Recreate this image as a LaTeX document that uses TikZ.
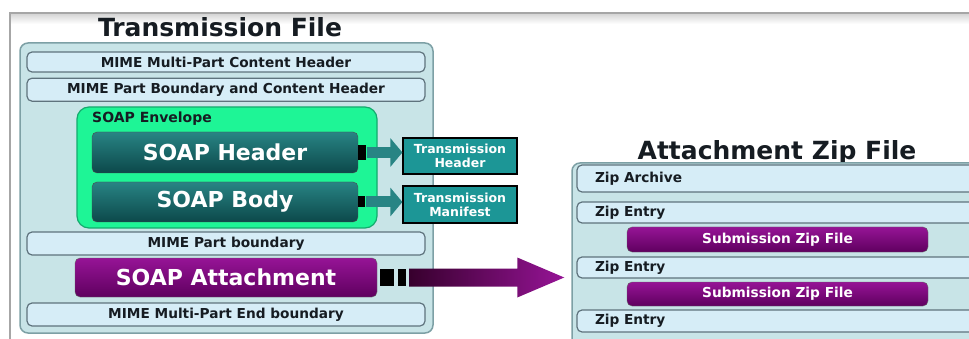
\documentclass[tikz,border=0pt]{standalone}
\usepackage{fontspec}
\setmainfont{DejaVu Sans}
\usepackage{xcolor}
\usetikzlibrary{arrows.meta, positioning, calc}
\definecolor{outerfill}{RGB}{200,228,231}
\definecolor{outerline}{RGB}{125,160,165}
\definecolor{barfill}{RGB}{214,237,247}
\definecolor{barline}{RGB}{95,115,125}
\definecolor{envgreen}{RGB}{30,245,150}
\definecolor{envline}{RGB}{20,170,110}
\definecolor{soaptop}{RGB}{40,132,132}
\definecolor{soapbot}{RGB}{12,72,74}
\definecolor{transteal}{RGB}{28,150,150}
\definecolor{attlight}{RGB}{150,20,150}
\definecolor{attdark}{RGB}{95,0,95}
\definecolor{arrdark}{RGB}{55,0,45}
\definecolor{inktext}{RGB}{22,28,34}
\newcommand{\smallfont}{\fontsize{13.7}{14.5}\selectfont\bfseries}
\newcommand{\bigfont}{\fontsize{22}{26}\selectfont\bfseries}
\newcommand{\titlefont}{\fontsize{25}{30}\selectfont\bfseries}

\begin{document}
\begin{tikzpicture}[
        x=1pt, y=-1pt,
        title/.style={font=\titlefont, text=inktext, inner sep=0pt},
        outer/.style={rectangle, draw=outerline, line width=1.5pt, rounded corners=8pt, fill=outerfill},
        bar/.style={rectangle, draw=barline, line width=1.2pt, rounded corners=5pt, fill=barfill, minimum width=398pt, font=\smallfont, text=inktext, inner sep=0pt},
        zipbar/.style={bar, minimum width=413pt, text width=377pt, inner xsep=18pt, align=left},
        envelope/.style={rectangle, draw=envline, line width=1.2pt, rounded corners=12pt, fill=envgreen, minimum width=300pt, minimum height=121pt},
        soapbar/.style={rectangle, draw=black!70, rounded corners=5pt, top color=soaptop, bottom color=soapbot, minimum width=266pt, minimum height=40pt, text=white, font=\bigfont, inner sep=0pt},
        attbox/.style={rectangle, draw=black!60, rounded corners=5pt, top color=attlight, bottom color=attdark, text=white, inner sep=0pt},
        transbox/.style={rectangle, draw=black, line width=1.2pt, fill=transteal, text=white, font=\fontsize{12.5}{14}\selectfont\bfseries, align=center, minimum width=114pt, minimum height=36pt, inner sep=0pt},
        dot/.style={rectangle, fill=black, inner sep=0pt},
        tealarrow/.style={line width=11pt, draw=soaptop, -{Triangle[length=12pt, width=28pt]}},
        node distance=5pt
    ]
        \useasboundingbox (0,0) rectangle (969,339);
        \clip (0,0) rectangle (969,339);
        % screenshot frame
        \shade[top color=gray!35, bottom color=white] (10,13) rectangle (969,24);
        \draw[gray!70, line width=2.5pt] (969,13) -- (10,13) -- (10,339);

        % transmission file
        \node[title] (transfile) at (220,27) {Transmission File};
        \node[outer, minimum width=413pt, minimum height=290pt] (trans) at (226.5,188) {};
        \node[bar, minimum height=20pt] (mimehdr) at (226,62) {MIME Multi-Part Content Header};
        \node[bar, minimum height=23pt, below=of mimehdr] (mimebnd) {MIME Part Boundary and Content Header};
        \node[envelope] (envelope) at (227,167.5) {};
        \node[anchor=north west, font=\fontsize{14}{16}\selectfont\bfseries, text=inktext, inner sep=0pt] (envlabel) at (92,112) {SOAP Envelope};
        \node[soapbar, minimum height=41pt] (soaphdr) at (225,152.5) {SOAP Header};
        \node[soapbar] (soapbody) at (225,202) {SOAP Body};
        \node[bar, minimum height=23pt] (mimepart) at (226,243.5) {MIME Part boundary};
        \node[attbox, minimum width=302pt, minimum height=39pt, font=\bigfont] (soapatt) at (226,277.5) {SOAP Attachment};
        \node[bar, minimum height=23pt] (mimeend) at (226,314.5) {MIME Multi-Part End boundary};

        % transmission header and manifest
        \node[transbox] (thdr) at (460,156) {Transmission\\Header};
        \node[transbox, minimum height=37pt] (tman) at (460,204.5) {Transmission\\Manifest};
        \node[dot, minimum width=8pt, minimum height=15pt, anchor=west] (hdrdot) at (soaphdr.east) {};
        \node[dot, minimum width=7pt, minimum height=11pt, anchor=west] (bodydot) at (soapbody.east) {};
        \draw[tealarrow] (hdrdot.east) -- (hdrdot.east -| thdr.west);
        \draw[tealarrow] (bodydot.east) -- (bodydot.east -| tman.west);

        % attachment zip file
        \node[title] (ziptitle) at (777,153) {Attachment Zip File};
        \node[outer, minimum width=428pt, minimum height=197pt] (zipfile) at (786,261.5) {};
        \node[zipbar, minimum height=27pt] (ziparch) at (783.5,178.5) {Zip Archive};
        \node[zipbar, minimum height=21pt] (zipent1) at (783.5,212.5) {Zip Entry};
        \node[attbox, minimum width=301pt, minimum height=25pt, font=\smallfont] (subzip1) at (777.5,239.5) {Submission Zip File};
        \node[zipbar, minimum height=21pt] (zipent2) at (783.5,267.5) {Zip Entry};
        \node[attbox, minimum width=301pt, minimum height=24pt, font=\smallfont] (subzip2) at (777.5,294) {Submission Zip File};
        \node[zipbar, minimum height=22pt] (zipent3) at (783.5,321) {Zip Entry};

        % attachment arrow
        \node[dot, minimum width=14pt, minimum height=17pt, right=3pt of soapatt.east, anchor=west] (attdota) {};
        \node[dot, minimum width=8pt, minimum height=17pt, right=3pt of attdota] (attdotb) {};
        \coordinate (atail) at ($(attdotb.east)+(3,0)$);
        \coordinate (atip) at ($(atail -| zipfile.west)+(-7,0)$);
        \shade[left color=arrdark, right color=attlight] ($(atail)+(0,-9)$) -- ($(atip)+(-47,-9)$) -- ($(atip)+(-47,-20)$) -- (atip) -- ($(atip)+(-47,20)$) -- ($(atip)+(-47,9)$) -- ($(atail)+(0,9)$) -- cycle;
    \end{tikzpicture}
\end{document}
